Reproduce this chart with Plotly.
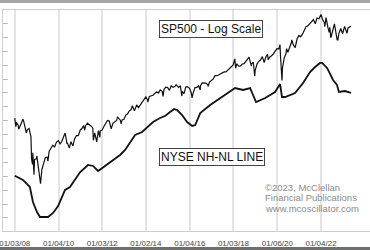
import plotly.graph_objects as go

# ---------------- data ----------------
sp_dates = [
    "2008-01-03", "2008-01-22", "2008-01-31", "2008-02-29", "2008-03-10", "2008-03-31",
    "2008-04-30", "2008-05-19", "2008-05-30", "2008-06-30", "2008-07-15", "2008-07-31",
    "2008-08-29", "2008-09-30", "2008-10-10", "2008-10-27", "2008-10-31", "2008-11-20",
    "2008-11-28", "2008-12-31", "2009-01-06", "2009-01-30", "2009-02-27", "2009-03-09",
    "2009-03-31", "2009-04-30", "2009-05-29", "2009-06-30", "2009-07-10", "2009-07-31",
    "2009-08-31", "2009-09-30", "2009-10-30", "2009-11-30", "2009-12-31", "2010-01-29",
    "2010-02-26", "2010-03-31", "2010-04-23", "2010-04-30", "2010-05-25", "2010-05-28",
    "2010-06-30", "2010-07-02", "2010-07-30", "2010-08-31", "2010-09-30", "2010-10-29",
    "2010-11-30", "2010-12-31", "2011-01-31", "2011-02-28", "2011-03-16", "2011-03-31",
    "2011-04-29", "2011-05-31", "2011-06-30", "2011-07-29", "2011-08-08", "2011-08-31",
    "2011-09-30", "2011-10-03", "2011-10-31", "2011-11-25", "2011-11-30", "2011-12-30",
    "2012-01-31", "2012-02-29", "2012-03-30", "2012-04-30", "2012-06-01", "2012-06-29",
    "2012-07-31", "2012-08-31", "2012-09-14", "2012-10-31", "2012-11-15", "2012-11-30",
    "2012-12-31", "2013-01-31", "2013-02-28", "2013-03-28", "2013-04-30", "2013-05-21",
    "2013-06-24", "2013-07-31", "2013-08-30", "2013-09-30", "2013-10-31", "2013-11-29",
    "2013-12-31", "2014-01-31", "2014-02-03", "2014-02-28", "2014-03-31", "2014-04-30",
    "2014-05-30", "2014-06-30", "2014-07-31", "2014-08-29", "2014-09-30", "2014-10-15",
    "2014-10-31", "2014-11-28", "2014-12-31", "2015-01-30", "2015-02-27", "2015-03-31",
    "2015-04-30", "2015-05-21", "2015-06-30", "2015-07-31", "2015-08-25", "2015-08-31",
    "2015-09-30", "2015-10-30", "2015-11-30", "2015-12-31", "2016-01-29", "2016-02-11",
    "2016-02-29", "2016-03-31", "2016-04-29", "2016-05-31", "2016-06-27", "2016-06-30",
    "2016-07-29", "2016-08-31", "2016-09-30", "2016-10-31", "2016-11-04", "2016-11-30",
    "2016-12-30", "2017-01-31", "2017-02-28", "2017-03-31", "2017-04-28", "2017-05-31",
    "2017-06-30", "2017-07-31", "2017-08-31", "2017-09-29", "2017-10-31", "2017-11-30",
    "2017-12-29", "2018-01-26", "2018-02-08", "2018-02-28", "2018-03-29", "2018-04-30",
    "2018-05-31", "2018-06-29", "2018-07-31", "2018-08-31", "2018-09-20", "2018-10-29",
    "2018-10-31", "2018-11-30", "2018-12-24", "2018-12-31", "2019-01-31", "2019-02-28",
    "2019-03-29", "2019-04-30", "2019-05-31", "2019-06-28", "2019-07-26", "2019-08-05",
    "2019-08-30", "2019-09-30", "2019-10-31", "2019-11-29", "2019-12-31", "2020-01-31",
    "2020-02-19", "2020-02-28", "2020-03-23", "2020-03-31", "2020-04-30", "2020-05-29",
    "2020-06-08", "2020-06-30", "2020-07-31", "2020-08-31", "2020-09-02", "2020-09-30",
    "2020-10-30", "2020-11-30", "2020-12-31", "2021-01-29", "2021-02-26", "2021-03-31",
    "2021-04-30", "2021-05-28", "2021-06-30", "2021-07-30", "2021-08-31", "2021-09-30",
    "2021-10-29", "2021-11-30", "2022-01-03", "2022-01-31", "2022-02-28", "2022-03-08",
    "2022-03-29", "2022-04-29", "2022-05-20", "2022-05-31", "2022-06-16", "2022-06-30",
    "2022-07-29", "2022-08-16", "2022-09-30", "2022-10-12", "2022-10-31", "2022-11-30",
    "2022-12-30", "2023-01-31", "2023-02-02", "2023-02-28", "2023-03-13", "2023-03-31",
    "2023-04-28", "2023-05-19",
]
sp_values = [
    1447, 1310, 1379, 1331, 1273, 1323,
    1386, 1427, 1400, 1280, 1215, 1267,
    1283, 1166, 899, 848, 969, 752,
    896, 903, 935, 826, 735, 677,
    798, 873, 919, 919, 879, 987,
    1021, 1057, 1036, 1096, 1115, 1074,
    1104, 1169, 1217, 1187, 1074, 1089,
    1031, 1022, 1102, 1049, 1141, 1183,
    1181, 1258, 1286, 1327, 1257, 1326,
    1364, 1345, 1321, 1292, 1119, 1219,
    1131, 1099, 1253, 1159, 1247, 1258,
    1312, 1366, 1408, 1398, 1278, 1362,
    1379, 1407, 1466, 1412, 1353, 1416,
    1426, 1498, 1515, 1569, 1598, 1669,
    1573, 1686, 1633, 1682, 1757, 1806,
    1848, 1783, 1741, 1859, 1872, 1884,
    1924, 1960, 1931, 2003, 1972, 1862,
    2018, 2068, 2059, 1995, 2105, 2068,
    2086, 2131, 2063, 2104, 1867, 1972,
    1920, 2079, 2080, 2044, 1940, 1829,
    1932, 2060, 2065, 2097, 2001, 2099,
    2174, 2171, 2168, 2126, 2085, 2199,
    2239, 2279, 2364, 2363, 2384, 2412,
    2423, 2470, 2472, 2519, 2575, 2648,
    2674, 2873, 2581, 2714, 2641, 2648,
    2705, 2718, 2816, 2902, 2931, 2641,
    2712, 2760, 2351, 2507, 2704, 2784,
    2834, 2946, 2752, 2942, 3026, 2845,
    2926, 2977, 3038, 3141, 3231, 3226,
    3386, 2954, 2237, 2585, 2912, 3044,
    3232, 3100, 3271, 3500, 3580, 3363,
    3270, 3622, 3756, 3714, 3811, 3973,
    4181, 4204, 4298, 4395, 4523, 4308,
    4605, 4567, 4797, 4516, 4374, 4170,
    4632, 4132, 3901, 4132, 3667, 3785,
    4130, 4305, 3586, 3577, 3872, 4080,
    3840, 4077, 4180, 3970, 3855, 4109,
    4169, 4191,
]

nhnl_dates = [
    "2008-01-03", "2008-05-19", "2008-09-12", "2008-11-02", "2009-01-08", "2009-02-27",
    "2009-07-12", "2009-10-04", "2009-12-27", "2010-04-22", "2010-07-13", "2010-12-28",
    "2011-05-10", "2011-08-03", "2011-10-26", "2012-01-01", "2012-04-09", "2012-08-04",
    "2012-10-27", "2013-01-19", "2013-04-13", "2013-07-05", "2013-10-30", "2014-02-07",
    "2014-05-01", "2014-08-25", "2014-11-17", "2015-02-10", "2015-04-17", "2015-06-06",
    "2015-08-29", "2015-11-21", "2016-02-13", "2016-04-04", "2016-06-27", "2016-12-10",
    "2017-05-27", "2017-11-08", "2018-01-30", "2018-06-13", "2018-10-08", "2018-11-26",
    "2019-01-15", "2019-06-17", "2019-11-28", "2020-02-21", "2020-03-23", "2020-05-15",
    "2020-10-28", "2021-03-10", "2021-07-05", "2021-09-27", "2021-12-18", "2022-01-22",
    "2022-04-15", "2022-07-24", "2022-09-28", "2022-10-30", "2023-02-07", "2023-05-19",
]
nhnl_values = [
    3040, 2730, 2225, 1145, 425, 65,
    65, 355, 855, 2010, 2225, 3280,
    3810, 3740, 3380, 3590, 3950, 4310,
    4530, 4890, 5465, 5970, 6185, 6545,
    6905, 7190, 7340, 7625, 7840, 7770,
    7410, 6905, 6620, 6690, 7550, 8130,
    8630, 9065, 9350, 9210, 9350, 8850,
    8345, 8630, 9065, 9640, 8705, 8705,
    8995, 9715, 10505, 10865, 11155, 11155,
    10795, 9930, 9570, 9065, 9135, 8995,
]

tick_dates = ["2008-01-03", "2010-01-04", "2012-01-03", "2014-01-02",
              "2016-01-04", "2018-01-03", "2020-01-06", "2022-01-04"]
tick_labels = ["01/03/08", "01/04/10", "01/03/12", "01/02/14",
               "01/04/16", "01/03/18", "01/06/20", "01/04/22"]

# ---------------- figure ----------------
fig = go.Figure()
fig.add_trace(go.Scatter(x=sp_dates, y=sp_values, mode="lines",
                         line=dict(color="#111111", width=1.2), yaxis="y",
                         showlegend=False, hoverinfo="skip"))
fig.add_trace(go.Scatter(x=nhnl_dates, y=nhnl_values, mode="lines",
                         line=dict(color="#111111", width=1.8), yaxis="y2",
                         showlegend=False, hoverinfo="skip"))

fig.update_layout(
    width=370, height=250,
    margin=dict(l=3, r=0, t=10, b=19),
    paper_bgcolor="white", plot_bgcolor="white",
    xaxis=dict(
        type="date", range=["2007-06-21", "2024-04-01"],
        tickmode="array", tickvals=tick_dates, ticktext=tick_labels,
        showgrid=True, gridcolor="#e4e4e4", gridwidth=1.5,
        showline=True, linecolor="#cccccc", linewidth=1, mirror=True,
        ticks="", ticklabelstandoff=4, ticklabeloverflow="allow",
        tickfont=dict(family="Liberation Sans, Arial", size=8, color="#444444"),
        zeroline=False,
    ),
    yaxis=dict(type="log", range=[2.5931, 3.7037], showgrid=False,
               showticklabels=False, ticks="", showline=False, zeroline=False),
    yaxis2=dict(overlaying="y", side="left", range=[-943, 14969],
                showgrid=False, showticklabels=False, zeroline=False,
                showline=True, linecolor="#d0d0d0", linewidth=1,
                ticks="inside", ticklen=5, tickcolor="#bbbbbb", tickwidth=1,
                tick0=0, dtick=1000),
    shapes=[
        dict(type="rect", xref="paper", yref="paper", x0=-0.02, x1=1.02,
             y0=1.0317, y1=1.06, fillcolor="#a6a6a6", line=dict(width=0), layer="above"),
        dict(type="rect", xref="paper", yref="paper", x0=-0.02, x1=1.02,
             y0=-0.1, y1=-0.0724, fillcolor="#6e6e6e", line=dict(width=0), layer="above"),
    ],
)


# positions converted from pixels to paper coords
def px(xp):
    return (xp - 3) / 367.0


def py(yp):
    return (231 - yp) / 221.0


font_box = dict(family="Liberation Sans, Arial", size=12, color="#111111")
fig.add_annotation(xref="paper", yref="paper", x=px(211), y=py(29),
                   xanchor="center", yanchor="middle",
                   text="SP500 - Log Scale", showarrow=False, font=font_box,
                   bgcolor="white", bordercolor="#444444", borderwidth=1, borderpad=1)
fig.add_annotation(xref="paper", yref="paper", x=px(211.5), y=py(156.5),
                   xanchor="center", yanchor="middle",
                   text="NYSE NH-NL LINE", showarrow=False, font=font_box,
                   bgcolor="white", bordercolor="#444444", borderwidth=1, borderpad=1)

copy_lines = ["©2023, McClellan", "Financial Publications", "www.mcoscillator.com"]
copy_y = [187, 197.5, 208]
for line_text, yy in zip(copy_lines, copy_y):
    fig.add_annotation(xref="paper", yref="paper", x=px(263), y=py(yy),
                       xanchor="left", yanchor="middle", text=line_text,
                       showarrow=False,
                       font=dict(family="Liberation Sans, Arial", size=9.5, color="#8c8c8c"))

fig.write_html("out.html")
